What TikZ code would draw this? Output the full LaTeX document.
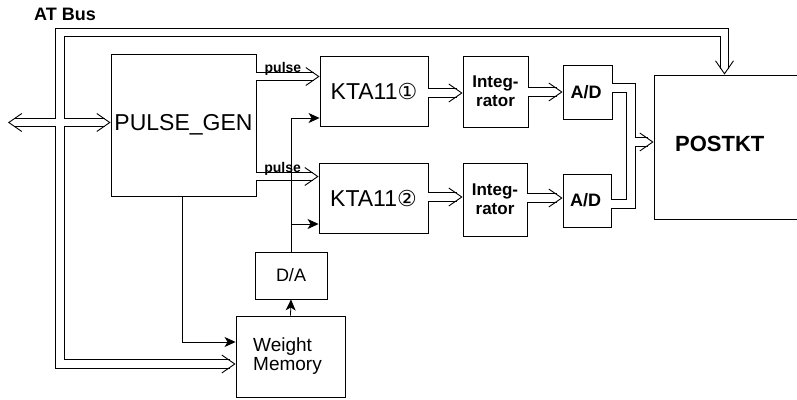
\documentclass[tikz,border=0pt]{standalone}
\usepackage{fontspec}
\setmainfont{Liberation Sans}
\newfontfamily\circfont{DejaVu Sans}
\usetikzlibrary{arrows.meta,positioning,calc,decorations.markings}
\tikzset{
  box/.style={draw, line width=.9pt, inner sep=0pt, align=center},
  bus/.style={double, double distance=7.5pt, line width=.9pt},
  core/.style={draw=white, line width=7.5pt},
  chev/.tip={Straight Barb[length=13pt,width=18pt,line width=.9pt]},
  hol/.style={bus, shorten >=6pt, postaction={decorate, decoration={markings,
      mark=at position 1 with {\arrow[line width=.9pt]{chev}}}}},
  hol2/.style={hol, shorten <=6pt, postaction={decorate, decoration={markings,
      mark=at position 0 with {\arrowreversed[line width=.9pt]{chev}}}}},
  sig/.style={line width=.8pt, -{Stealth[length=11pt,width=10pt,inset=3pt]}},
  lbl/.style={font=\bfseries\fontsize{14}{14}\selectfont, inner sep=1pt},
}
\newcommand{\fs}[1]{\fontsize{#1}{#1}\selectfont}
\begin{document}
\begin{tikzpicture}[x=1pt, y=-1pt]
  \useasboundingbox (0,0) rectangle (797,399);
  % blocks
  \node[font=\bfseries\fs{18}] (atbus) at (65,14) {AT Bus};
  \node[box, minimum width=145, minimum height=142, font=\fs{23}] (pgen) at (183.5,125) {PULSE\_GEN};
  \node[box, minimum width=108, minimum height=70, font=\fs{23}] (kta1) at (374,91) {KTA11{\circfont\fs{22}①}};
  \node[box, minimum width=109, minimum height=70, font=\fs{23}] (kta2) at (373.5,198) {KTA11{\circfont\fs{22}②}};
  \node[box, minimum width=65, minimum height=71, font=\bfseries\fs{17}, align=center] (int1) at (495.5,91.5) {Integ-\\[2pt]rator};
  \node[box, minimum width=64, minimum height=73, font=\bfseries\fs{17}, align=center] (int2) at (495,199.5) {Integ-\\[2pt]rator};
  \node[box, minimum width=49, minimum height=54, font=\bfseries\fs{18}] (ad1) at (587.5,92) {A/D\kern3pt};
  \node[box, minimum width=48, minimum height=53, font=\bfseries\fs{18}] (ad2) at (587,200.5) {A/D\kern3pt};
  \node[box, minimum width=156, minimum height=144,
        label={[anchor=west, xshift=18pt, yshift=3pt, font=\bfseries\fs{22}]west:POSTKT}] (postkt) at (732,147) {};
  \node[box, minimum width=72, minimum height=47, font=\fs{18}] (da) at (291,275.5) {D/A};
  \node[box, minimum width=109, minimum height=81, font=\fs{19}, align=left] (wm) at (290.5,356.5) {Weight\\Memory\kern6pt};
  \coordinate (ext) at (8,122.5);
  \coordinate (mrg) at (631,142);

  % AT bus
  \draw[hol2] (wm.west |- 0,364) -| (60,32.5) -| (postkt.north -| 724.5,0);
  \draw[hol2] (ext) -- (pgen.west |- ext);
  \draw[core] (60,112) -- (60,133);

  % pulse lines
  \draw[hol] (pgen.east |- 0,76.5) -- node[lbl, above, pos=.42] {pulse} (kta1.west |- 0,76.5);
  \draw[hol] (pgen.east |- 0,176.5) -- node[lbl, above, pos=.42] {pulse} (kta2.west |- 0,176.5);

  % chains
  \draw[hol] (kta1.east |- 0,93) -- (int1.west |- 0,93);
  \draw[hol] (int1.east |- 0,92) -- (ad1.west |- 0,92);
  \draw[hol] (kta2.east |- 0,197) -- (int2.west |- 0,197);
  \draw[hol] (int2.east |- 0,198) -- (ad2.west |- 0,198);

  % A/D to POSTKT
  \draw[bus] (ad2.east |- 0,204) -| (mrg);
  \draw[hol] (ad1.east |- 0,88) -| (mrg) -- (postkt.west |- mrg);
  \draw[core] (mrg |- 0,200) -- (mrg);

  % weights
  \draw[sig] (da.north) -- (da.north |- 0,118) -- (kta1.west |- 0,118);
  \draw[sig] (da.north |- 0,224) -- (kta2.west |- 0,224);
  \draw[sig] (wm.north) -- (da.south);
  \draw[sig] (pgen.south -| 182,0) |- (wm.west |- 0,342);
\end{tikzpicture}
\end{document}
